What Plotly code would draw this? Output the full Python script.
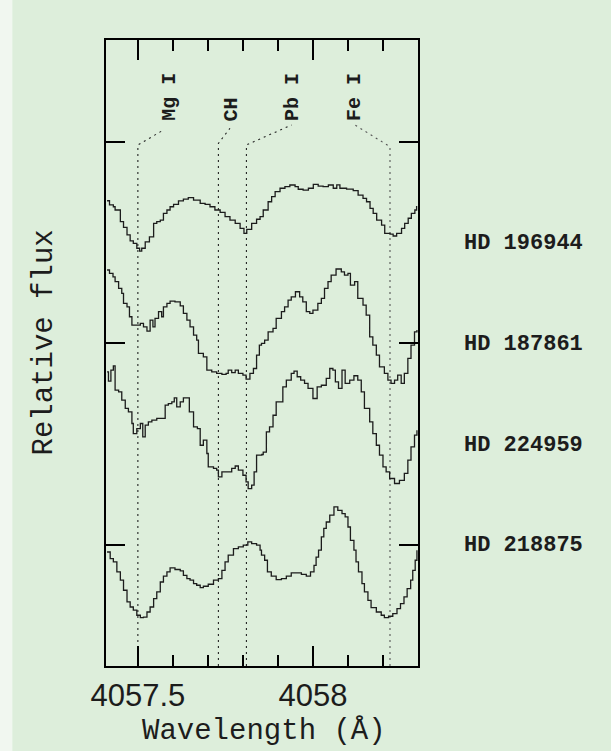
import plotly.graph_objects as go

# ---- data ----
STARS = ["HD 196944", "HD 187861", "HD 224959", "HD 218875"]
STAR_LABEL_Y = [2.497, 1.995, 1.493, 0.993]

LINE_NAMES = ["Mg I", "CH", "Pb I", "Fe I"]
LINE_WAVE = [4057.500, 4057.730, 4057.810, 4058.220]
LINE_KNEE_Y = [2.984, 2.992, 2.984, 2.975]
LABEL_WAVE = [4057.573, 4057.763, 4057.939, 4058.120]
LABEL_END_Y = [3.058, 3.067, 3.083, 3.083]
LABEL_TEXT_WAVE = [4057.591, 4057.770, 4057.943, 4058.120]
LABEL_TEXT_Y = 3.093

SPEC_HD196944 = [
    (4057.412, 2.707), (4057.419, 2.686), (4057.430, 2.677), (4057.435, 2.661), (4057.450, 2.603),
    (4057.459, 2.575), (4057.469, 2.537), (4057.478, 2.508), (4057.487, 2.495), (4057.497, 2.471),
    (4057.505, 2.457), (4057.511, 2.471), (4057.521, 2.503), (4057.533, 2.528), (4057.545, 2.595),
    (4057.554, 2.603), (4057.564, 2.611), (4057.573, 2.644), (4057.583, 2.661), (4057.592, 2.677),
    (4057.602, 2.689), (4057.616, 2.706), (4057.630, 2.715), (4057.644, 2.722), (4057.659, 2.710),
    (4057.678, 2.694), (4057.692, 2.689), (4057.706, 2.677), (4057.720, 2.661), (4057.735, 2.649),
    (4057.749, 2.628), (4057.763, 2.611), (4057.778, 2.595), (4057.792, 2.570), (4057.803, 2.545),
    (4057.811, 2.565), (4057.825, 2.595), (4057.839, 2.615), (4057.849, 2.628), (4057.858, 2.661),
    (4057.872, 2.702), (4057.882, 2.727), (4057.892, 2.752), (4057.906, 2.769), (4057.920, 2.777),
    (4057.934, 2.785), (4057.949, 2.777), (4057.958, 2.764), (4057.972, 2.760), (4057.987, 2.769),
    (4058.001, 2.788), (4058.015, 2.780), (4058.029, 2.777), (4058.044, 2.785), (4058.058, 2.769),
    (4058.068, 2.786), (4058.077, 2.769), (4058.096, 2.765), (4058.115, 2.757), (4058.129, 2.735),
    (4058.143, 2.719), (4058.153, 2.702), (4058.163, 2.669), (4058.172, 2.644), (4058.182, 2.611),
    (4058.196, 2.586), (4058.205, 2.545), (4058.220, 2.541), (4058.229, 2.532), (4058.239, 2.545),
    (4058.253, 2.570), (4058.262, 2.595), (4058.272, 2.620), (4058.281, 2.644), (4058.291, 2.661),
    (4058.296, 2.681),
]

SPEC_HD187861 = [
    (4057.412, 2.363), (4057.419, 2.346), (4057.429, 2.329), (4057.435, 2.305), (4057.445, 2.272),
    (4057.454, 2.247), (4057.459, 2.197), (4057.469, 2.180), (4057.476, 2.131), (4057.483, 2.089),
    (4057.497, 2.089), (4057.507, 2.098), (4057.516, 2.081), (4057.526, 2.060), (4057.535, 2.114),
    (4057.543, 2.081), (4057.549, 2.123), (4057.559, 2.156), (4057.568, 2.131), (4057.573, 2.180),
    (4057.583, 2.197), (4057.592, 2.209), (4057.606, 2.205), (4057.621, 2.185), (4057.630, 2.148),
    (4057.640, 2.114), (4057.649, 2.081), (4057.659, 2.040), (4057.668, 2.015), (4057.673, 1.949),
    (4057.687, 1.932), (4057.697, 1.866), (4057.711, 1.857), (4057.725, 1.850), (4057.740, 1.845),
    (4057.752, 1.850), (4057.758, 1.866), (4057.768, 1.854), (4057.778, 1.866), (4057.787, 1.850),
    (4057.800, 1.841), (4057.809, 1.821), (4057.820, 1.850), (4057.830, 1.874), (4057.839, 1.940),
    (4057.847, 1.990), (4057.853, 1.999), (4057.862, 2.015), (4057.872, 2.056), (4057.886, 2.073),
    (4057.895, 2.123), (4057.910, 2.156), (4057.919, 2.180), (4057.929, 2.214), (4057.938, 2.230),
    (4057.950, 2.255), (4057.962, 2.230), (4057.971, 2.205), (4057.981, 2.156), (4057.991, 2.148),
    (4058.000, 2.164), (4058.014, 2.197), (4058.024, 2.222), (4058.033, 2.272), (4058.043, 2.305),
    (4058.052, 2.338), (4058.066, 2.368), (4058.081, 2.354), (4058.090, 2.338), (4058.100, 2.346),
    (4058.107, 2.288), (4058.119, 2.305), (4058.128, 2.222), (4058.143, 2.189), (4058.152, 2.139),
    (4058.162, 2.031), (4058.171, 1.990), (4058.181, 1.940), (4058.190, 1.882), (4058.204, 1.850),
    (4058.214, 1.816), (4058.223, 1.800), (4058.233, 1.816), (4058.242, 1.841), (4058.252, 1.800),
    (4058.261, 1.850), (4058.271, 1.924), (4058.280, 1.990), (4058.290, 2.056), (4058.297, 2.065),
]

SPEC_HD224959 = [
    (4057.412, 1.857), (4057.416, 1.811), (4057.423, 1.866), (4057.430, 1.887), (4057.435, 1.767),
    (4057.445, 1.758), (4057.454, 1.717), (4057.464, 1.676), (4057.473, 1.659), (4057.483, 1.601),
    (4057.487, 1.551), (4057.497, 1.576), (4057.507, 1.601), (4057.514, 1.535), (4057.521, 1.593),
    (4057.530, 1.609), (4057.540, 1.618), (4057.554, 1.626), (4057.568, 1.626), (4057.578, 1.692),
    (4057.587, 1.700), (4057.597, 1.708), (4057.604, 1.728), (4057.611, 1.684), (4057.621, 1.708),
    (4057.630, 1.728), (4057.641, 1.728), (4057.647, 1.659), (4057.659, 1.584), (4057.670, 1.576),
    (4057.678, 1.493), (4057.687, 1.518), (4057.697, 1.452), (4057.701, 1.386), (4057.716, 1.378),
    (4057.725, 1.369), (4057.730, 1.336), (4057.740, 1.361), (4057.754, 1.361), (4057.768, 1.378),
    (4057.778, 1.390), (4057.787, 1.369), (4057.800, 1.344), (4057.809, 1.311), (4057.815, 1.278),
    (4057.825, 1.295), (4057.832, 1.361), (4057.839, 1.444), (4057.854, 1.447), (4057.858, 1.459),
    (4057.867, 1.559), (4057.876, 1.584), (4057.886, 1.642), (4057.895, 1.708), (4057.905, 1.708),
    (4057.914, 1.783), (4057.924, 1.816), (4057.938, 1.850), (4057.946, 1.861), (4057.955, 1.833),
    (4057.965, 1.816), (4057.976, 1.800), (4057.986, 1.775), (4058.000, 1.725), (4058.012, 1.783),
    (4058.024, 1.791), (4058.038, 1.825), (4058.048, 1.874), (4058.057, 1.866), (4058.064, 1.808),
    (4058.073, 1.775), (4058.083, 1.866), (4058.092, 1.800), (4058.105, 1.816), (4058.117, 1.838),
    (4058.128, 1.816), (4058.138, 1.758), (4058.147, 1.676), (4058.162, 1.609), (4058.171, 1.551),
    (4058.181, 1.493), (4058.190, 1.444), (4058.200, 1.386), (4058.209, 1.361), (4058.219, 1.328),
    (4058.233, 1.303), (4058.247, 1.319), (4058.261, 1.353), (4058.271, 1.419), (4058.280, 1.485),
    (4058.290, 1.543), (4058.297, 1.568),
]

SPEC_HD218875 = [
    (4057.412, 0.963), (4057.421, 0.930), (4057.430, 0.914), (4057.440, 0.864), (4057.450, 0.823),
    (4057.459, 0.773), (4057.469, 0.715), (4057.478, 0.690), (4057.487, 0.674), (4057.497, 0.649),
    (4057.507, 0.637), (4057.516, 0.640), (4057.526, 0.665), (4057.535, 0.690), (4057.545, 0.732),
    (4057.554, 0.765), (4057.564, 0.814), (4057.573, 0.843), (4057.583, 0.864), (4057.592, 0.884),
    (4057.606, 0.876), (4057.621, 0.869), (4057.630, 0.847), (4057.640, 0.831), (4057.649, 0.823),
    (4057.659, 0.806), (4057.668, 0.798), (4057.678, 0.786), (4057.687, 0.793), (4057.701, 0.803),
    (4057.716, 0.823), (4057.730, 0.831), (4057.740, 0.872), (4057.749, 0.914), (4057.758, 0.947),
    (4057.773, 0.980), (4057.787, 0.988), (4057.801, 0.997), (4057.814, 1.013), (4057.825, 1.005),
    (4057.839, 0.997), (4057.849, 0.972), (4057.853, 0.947), (4057.862, 0.922), (4057.870, 0.864),
    (4057.881, 0.843), (4057.895, 0.826), (4057.910, 0.831), (4057.924, 0.843), (4057.938, 0.859),
    (4057.952, 0.859), (4057.967, 0.852), (4057.981, 0.843), (4057.993, 0.864), (4058.003, 0.897),
    (4058.009, 0.938), (4058.016, 0.972), (4058.024, 1.038), (4058.031, 1.080), (4058.038, 1.112),
    (4058.048, 1.146), (4058.060, 1.187), (4058.071, 1.170), (4058.083, 1.154), (4058.092, 1.137),
    (4058.100, 1.087), (4058.107, 1.021), (4058.117, 0.972), (4058.123, 0.914), (4058.130, 0.864),
    (4058.140, 0.806), (4058.147, 0.765), (4058.157, 0.723), (4058.166, 0.687), (4058.181, 0.665),
    (4058.195, 0.649), (4058.204, 0.637), (4058.216, 0.644), (4058.228, 0.657), (4058.240, 0.682),
    (4058.250, 0.707), (4058.260, 0.740), (4058.269, 0.781), (4058.279, 0.823), (4058.285, 0.872),
    (4058.292, 0.922), (4058.297, 0.972),
]

SPECTRA = [SPEC_HD196944, SPEC_HD187861, SPEC_HD224959, SPEC_HD218875]

X_RANGE = [4057.409, 4058.300]
Y_RANGE = [0.397, 3.505]
X_MAJOR = [4057.5, 4058.0]
X_MAJOR_TEXT = ["4057.5", "4058"]
X_MINOR = [4057.6, 4057.7, 4057.8, 4057.9, 4058.1, 4058.2]
Y_TICKS = [1, 2, 3]

BG = "#ddeedb"
INK = "#1c1c1c"
MONO = "Liberation Mono, Courier New, monospace"

fig = go.Figure()

# identification lines (dotted) with slanted connectors to labels
for i, name in enumerate(LINE_NAMES):
    fig.add_trace(go.Scatter(
        x=[LINE_WAVE[i], LINE_WAVE[i], LABEL_WAVE[i]],
        y=[Y_RANGE[0], LINE_KNEE_Y[i], LABEL_END_Y[i]],
        mode="lines",
        line=dict(color="#222" if name != "Fe I" else "#555", width=1.1, dash="2px,4px"),
        hoverinfo="skip",
    ))

for spec in SPECTRA:
    w, f = zip(*spec)
    fig.add_trace(go.Scatter(
        x=list(w), y=list(f), mode="lines", line_shape="hv",
        line=dict(color=INK, width=1.3), hoverinfo="skip",
    ))

annotations = []
for i, name in enumerate(LINE_NAMES):
    annotations.append(dict(
        x=LABEL_TEXT_WAVE[i], y=LABEL_TEXT_Y, xref="x", yref="y",
        text=name, textangle=-90, showarrow=False,
        xanchor="center", yanchor="bottom",
        font=dict(family=MONO, size=20, color=INK, weight="bold"),
    ))
for name, yl in zip(STARS, STAR_LABEL_Y):
    annotations.append(dict(
        x=1.339, y=yl, xref="paper", yref="y", text=name, showarrow=False,
        xanchor="center", yanchor="middle",
        font=dict(family=MONO, size=22, color=INK, weight="bold"),
    ))
annotations.append(dict(
    x=0.507, y=-0.104, xref="paper", yref="paper", text="Wavelength (Å)",
    showarrow=False, xanchor="center", yanchor="middle",
    font=dict(family=MONO, size=29, color=INK),
))
annotations.append(dict(
    x=-0.197, y=0.516, xref="paper", yref="paper", text="Relative flux",
    showarrow=False, xanchor="center", yanchor="middle", textangle=-90,
    font=dict(family=MONO, size=29, color=INK),
))

fig.update_layout(
    width=611, height=751,
    margin=dict(l=106, r=193, t=40, b=85),
    paper_bgcolor=BG, plot_bgcolor=BG,
    showlegend=False,
    annotations=annotations,
    shapes=[dict(type="rect", xref="paper", yref="paper",
                 x0=-0.345, x1=-0.300, y0=-0.2, y1=1.2,
                 fillcolor="#f1f7f0", line=dict(width=0), layer="below")],
)

fig.update_xaxes(
    range=X_RANGE, showgrid=False, zeroline=False,
    showline=True, linecolor="black", linewidth=2, mirror="ticks",
    ticks="inside", ticklen=20, tickwidth=2, tickcolor="black",
    tickvals=X_MAJOR, ticktext=X_MAJOR_TEXT,
    tickfont=dict(family="Liberation Sans, Arial, sans-serif", size=31, color=INK),
    ticklabelstandoff=1,
    minor=dict(tickvals=X_MINOR, ticks="inside", ticklen=11, tickwidth=2, tickcolor="black", showgrid=False),
)
fig.update_yaxes(
    range=Y_RANGE, showgrid=False, zeroline=False,
    showline=True, linecolor="black", linewidth=2, mirror="ticks",
    ticks="inside", ticklen=19, tickwidth=2, tickcolor="black",
    tickvals=Y_TICKS, showticklabels=False,
)

fig.write_html("out.html")
